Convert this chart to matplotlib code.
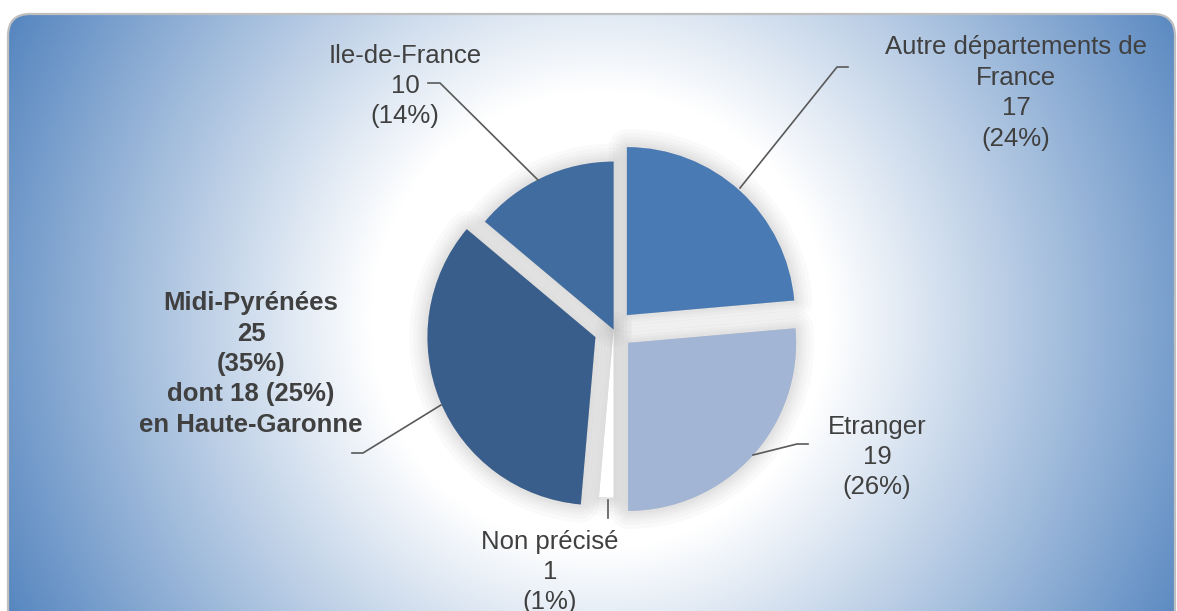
import matplotlib.pyplot as plt
import numpy as np
from matplotlib.patches import FancyBboxPatch
from matplotlib.colors import to_rgb

plt.rcParams['font.family'] = ['Liberation Sans', 'DejaVu Sans']

# Données
categories = ["Autre départements de\nFrance", "Etranger", "Non précisé", "Midi-Pyrénées", "Ile-de-France"]
effectifs = [17, 19, 1, 25, 10]
pourcentages = [24, 26, 1, 35, 14]
haute_garonne = 18
haute_garonne_pct = 25
couleurs = ["#4A7AB4", "#A2B5D5", "#FFFFFF", "#3A5E8B", "#416C9F"]
eclatement = [0.117, 0.117, 0, 0.117, 0]

W, H = 1177, 611
fig = plt.figure(figsize=(W / 100, H / 100), dpi=100)
ax = fig.add_axes([0, 0, 1, 1])


def py(y):
    # coordonnées pixel (haut->bas) vers données (bas->haut)
    return H - y


# Fond : cadre arrondi avec dégradé radial
x0, x1 = 8, 1175
y0, y1 = py(640), py(14)
cadre = FancyBboxPatch((x0, y0), x1 - x0, y1 - y0,
                       boxstyle="round,pad=0,rounding_size=22",
                       facecolor="none", edgecolor="#BFBFBF", linewidth=1.6, zorder=3)
ax.add_patch(cadre)

gx = np.linspace(x0, x1, 600)
gy = np.linspace(y0, y1, 350)
XX, YY = np.meshgrid(gx, gy)
d = np.hypot(XX - 600, YY - py(320))
t = np.clip((d - 230) / (680 - 230), 0, 1)
bleu = np.array(to_rgb("#4F81BD"))
img = (1 - t[..., None]) * np.ones(3) + t[..., None] * bleu
im = ax.imshow(img, extent=(x0, x1, y0, y1), origin="lower", zorder=0, aspect="auto")
im.set_clip_path(cadre)

# Camembert
centre = (613.6, py(329.6))
rayon = 168
expl = [e * rayon for e in eclatement]  # explode est en unités de données

# ombre douce
for lw in [26, 20, 15, 11, 7, 4]:
    ombres, _ = ax.pie(effectifs, colors=["#8C8C8C"] * len(effectifs), explode=expl,
                       startangle=90, counterclock=False, center=centre, radius=rayon,
                       wedgeprops=dict(linewidth=lw, edgecolor="#8C8C8C", alpha=0.045,
                                       joinstyle="round"))
    for w in ombres:
        w.set_zorder(1)

parts, _ = ax.pie(effectifs, colors=couleurs, explode=expl,
                  startangle=90, counterclock=False, center=centre, radius=rayon,
                  wedgeprops=dict(linewidth=0))
for w in parts:
    w.set_zorder(2)

# Étiquettes
gris = "#404040"
fs = 18.5
etiq = [f"{c}\n{n}\n({p}%)" for c, n, p in zip(categories, effectifs, pourcentages)]
etiq[3] += f"\ndont {haute_garonne} ({haute_garonne_pct}%)\nen Haute-Garonne"

positions = [(1016, 93), (877, 457), (550, 572), (251, 364), (405, 86)]
for i, (txt, (x, y)) in enumerate(zip(etiq, positions)):
    ax.text(x, py(y), txt, ha="center", va="center", multialignment="center",
            fontsize=fs, color=gris, linespacing=1.34,
            fontweight="bold" if i == 3 else "normal", zorder=4)

# Lignes de rappel
rappels = [
    [(848, 67), (837, 67), (740, 188)],
    [(808, 444), (797, 444), (753, 455)],
    [(608, 500), (608, 518)],
    [(352, 453), (363, 453), (441, 405)],
    [(428, 83), (440, 83), (538, 180)],
]
for pts in rappels:
    xs = [p[0] for p in pts]
    ys = [py(p[1]) for p in pts]
    ax.plot(xs, ys, color="#595959", linewidth=1.2, zorder=4)

ax.set_xlim(0, W)
ax.set_ylim(0, H)
ax.set_aspect("equal")
ax.axis("off")

fig.savefig("out.png", dpi=100, facecolor="white")
